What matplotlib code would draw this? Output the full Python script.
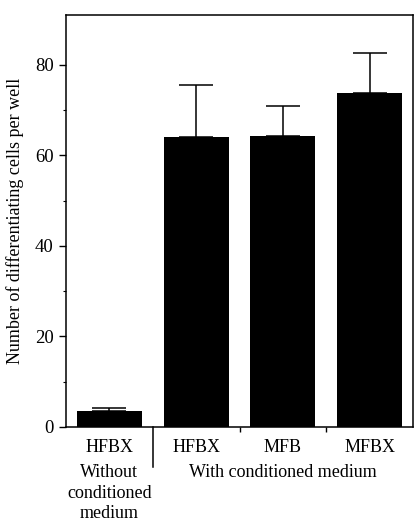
import matplotlib.pyplot as plt
import matplotlib.transforms as mtransforms
import numpy as np

plt.rcParams['font.family'] = 'serif'
plt.rcParams['font.serif'] = ['Liberation Serif', 'Times New Roman', 'DejaVu Serif']

media = ["HFBX", "HFBX", "MFB", "MFBX"]
cells = [3.6, 64.0, 64.2, 73.9]
errors = [0.5, 11.6, 6.7, 8.8]
group_without = "Without\nconditioned\nmedium"
group_with = "With conditioned medium"

fig = plt.figure(figsize=(4.16, 5.22), dpi=100)
ax = fig.add_axes([0.1587, 0.182, 0.8343, 0.789])

x = np.arange(len(media))
ax.bar(x, cells, width=0.75, color="black",
       yerr=[np.zeros(len(errors)), errors],
       error_kw=dict(ecolor="black", elinewidth=1.1, capsize=12, capthick=1.1))

ax.set_xlim(-0.5, 3.5)
ax.set_ylim(0, 91)
ax.set_yticks([0, 20, 40, 60, 80])
ax.set_yticks([10, 30, 50, 70], minor=True)
ax.tick_params(axis="y", which="major", length=5, width=1, labelsize=13.5, pad=4)
ax.tick_params(axis="y", which="minor", length=2.5, width=0.8)

ax.set_xticks(x)
ax.set_xticklabels(media)
ax.set_xticks([1.5, 2.5], minor=True)
ax.tick_params(axis="x", which="major", length=0, labelsize=13, pad=9)
ax.tick_params(axis="x", which="minor", length=3.5, width=1)

for s in ax.spines.values():
    s.set_linewidth(1.1)

# long divider between the two groups
trans = mtransforms.blended_transform_factory(ax.transData, ax.transAxes)
ax.plot([0.5, 0.5], [0, -0.097], transform=trans, color="black", lw=1.1, clip_on=False)

ax.text(0, -0.089, group_without, transform=trans, ha="center", va="top",
        fontsize=13, linespacing=1.3)
ax.text(2, -0.091, group_with, transform=trans, ha="center", va="top", fontsize=13)

ax.set_ylabel("Number of differentiating cells per well", fontsize=13, labelpad=8)

fig.savefig("out.png", dpi=100)
